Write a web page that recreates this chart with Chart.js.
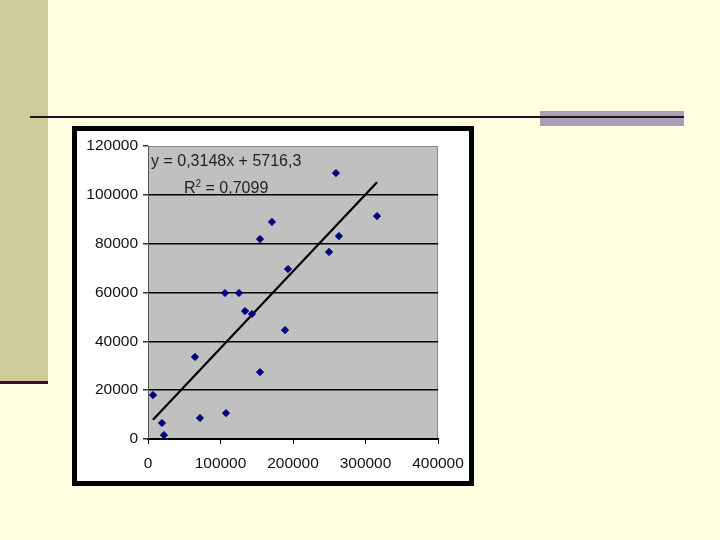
<!DOCTYPE html>
<html>
<head>
<meta charset="utf-8">
<script src="https://cdn.jsdelivr.net/npm/chart.js@4"></script>
<style>
  html, body { margin: 0; padding: 0; }
  body { width: 720px; height: 540px; background: #FFFFE0; position: relative; overflow: hidden; font-family: 'Liberation Sans', Arial, sans-serif; }
  .side-bar { position: absolute; left: 0; top: 0; width: 48px; height: 381px; background: #CCCC99; }
  .side-rule { position: absolute; left: 0; top: 381px; width: 48px; height: 3px; background: #3A0A3A; }
  .gray-tab { position: absolute; left: 540px; top: 111px; width: 144px; height: 15px; background: #A6A2B4; }
  .top-rule { position: absolute; left: 30px; top: 116px; width: 654px; height: 2px; background: #2A0A22; }
  .chart-box { position: absolute; left: 72px; top: 126px; width: 392px; height: 350px; border: 5px solid #000; background: #fff; }
  .chart-box canvas { display: block; }
  .eq { position: absolute; font-size: 16px; line-height: 16px; color: #222; white-space: nowrap; }
  .eq sup { font-size: 10px; line-height: 0; vertical-align: 6px; }
</style>
</head>
<body>
  <div class="side-bar"></div>
  <div class="side-rule"></div>
  <div class="gray-tab"></div>
  <div class="top-rule"></div>
  <div class="chart-box">
    <canvas id="scatter" width="392" height="350"></canvas>
  </div>
  <div class="eq" style="left:151px;top:153px">y = 0,3148x + 5716,3</div>
  <div class="eq" style="left:184px;top:180px">R<sup>2</sup> = 0,7099</div>

<script>
const xValues = [6900, 19300, 22000, 64800, 71700, 106200, 107600, 125500, 133800, 143400,
  154500, 154500, 171000, 193100, 189000, 249700, 263400, 315900, 259300]
const yValues = [18000, 6550, 1600, 33600, 8600, 59800, 10600, 59800, 52400, 51200,
  81900, 27400, 88900, 69600, 44600, 76600, 83100, 91300, 108900]
const xTicks = [0, 100000, 200000, 300000, 400000]
const yTicks = [0, 20000, 40000, 60000, 80000, 100000, 120000]
const slope = 0.3148
const intercept = 5716.3

const points = xValues.map((x, i) => ({ x, y: yValues[i] }))
const xMin = Math.min(...xValues)
const xMax = Math.max(...xValues)
const trend = [xMin, xMax].map(x => ({ x, y: slope * x + intercept }))

// gray plot area with a thin darker frame, like the old spreadsheet chart
const plotBackground = {
  id: 'plotBackground',
  beforeDraw(chart) {
    const { ctx, chartArea: a } = chart
    ctx.save()
    ctx.fillStyle = '#C0C0C0'
    ctx.fillRect(a.left, a.top, a.right - a.left, a.bottom - a.top)
    ctx.strokeStyle = '#8C8C8C'
    ctx.lineWidth = 1
    ctx.strokeRect(a.left + 0.5, a.top + 0.5, a.right - a.left - 1, a.bottom - a.top - 1)
    ctx.restore()
  }
}

const tickFont = { size: 15.5, family: "'Liberation Sans', Arial, sans-serif" }

new Chart(document.getElementById('scatter'), {
  type: 'scatter',
  data: {
    datasets: [
      {
        data: points,
        pointStyle: 'rectRot',
        pointRadius: 3.6,
        backgroundColor: '#000080',
        borderColor: '#000080',
        borderWidth: 1,
      },
      {
        type: 'line',
        data: trend,
        borderColor: '#000',
        borderWidth: 2.2,
        pointRadius: 0,
        fill: false,
      }
    ]
  },
  options: {
    responsive: false,
    animation: false,
    layout: { padding: { left: 0, right: 31, top: 15, bottom: 0 } },
    plugins: { legend: { display: false }, tooltip: { enabled: false } },
    scales: {
      x: {
        type: 'linear',
        min: 0,
        max: 400000,
        afterBuildTicks: s => { s.ticks = xTicks.map(v => ({ value: v })) },
        afterFit: s => { s.height = 42; s.paddingLeft = 0; s.paddingRight = 0 },
        grid: { drawOnChartArea: false, drawTicks: true, tickLength: 5, color: '#000' },
        border: { display: true, color: '#000', width: 2 },
        ticks: { color: '#111', font: tickFont, padding: 10, maxRotation: 0, autoSkip: false, callback: v => String(v) }
      },
      y: {
        type: 'linear',
        min: 0,
        max: 120000,
        afterBuildTicks: s => { s.ticks = yTicks.map(v => ({ value: v })) },
        afterFit: s => { s.width = 71; s.paddingTop = 0; s.paddingBottom = 0 },
        grid: {
          color: c => (c.tick && c.tick.value === 120000) ? 'rgba(0,0,0,0)' : '#000',
          lineWidth: 1.5,
          tickColor: '#333',
          tickLength: 5,
        },
        border: { display: true, color: '#555', width: 1 },
        ticks: { color: '#111', font: tickFont, padding: 5, autoSkip: false, callback: v => String(v) }
      }
    }
  },
  plugins: [plotBackground]
})
</script>
</body>
</html>
